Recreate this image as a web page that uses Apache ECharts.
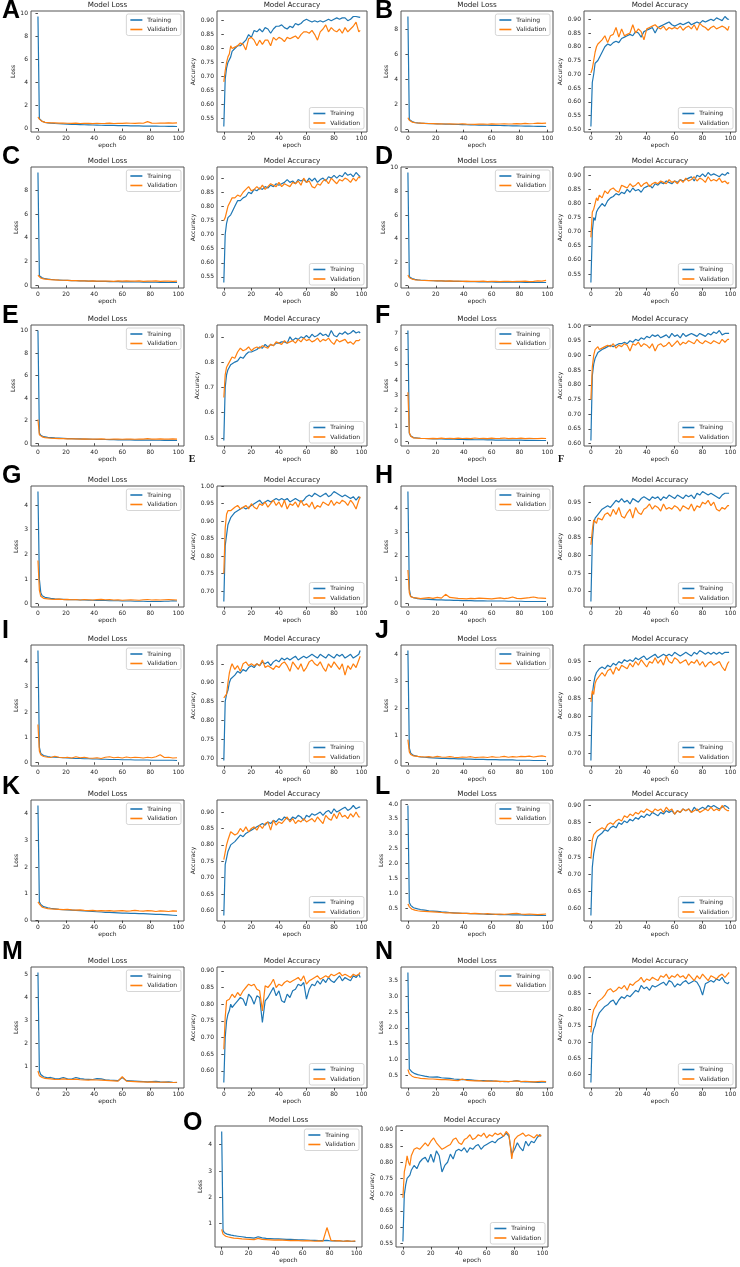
<!DOCTYPE html>
<html>
<head>
<meta charset="utf-8">
<script src="https://cdn.jsdelivr.net/npm/echarts@6/dist/echarts.min.js"></script>
<style>
  html, body { margin: 0; padding: 0; background: #fff; }
  #main { width: 740px; height: 1267px; }
</style>
</head>
<body>
<div id="main"></div>
<script>
var EP_L = [0,1,2,3,4,5,7,9,12,15,18,21,24,27,30,33,36,39,42,45,48,51,54,57,60,63,66,69,72,75,78,81,84,87,90,93,96,99];
var EP_A = [0,1,2,3,4,5,6,8,10,12,14,16,18,20,22,24,26,28,30,32,34,36,38,40,42,44,46,48,50,52,54,56,58,60,62,64,66,68,70,72,74,76,78,80,82,84,86,88,90,92,94,96,98,99];

// ---- A ----
var lossTrainA = [9.7,.85,.72,.64,.58,.54,.5,.47,.44,.42,
  .4,.39,.37,.36,.35,.33,.32,.31,.3,.29,
  .28,.28,.27,.26,.26,.25,.24,.24,.23,.22,
  .22,.21,.21,.2,.2,.19,.19,.18];
var lossValA = [1.0,.82,.7,.62,.56,.54,.52,.5,.49,.47,
  .48,.46,.45,.47,.44,.46,.45,.43,.46,.44,
  .45,.47,.44,.46,.45,.48,.46,.45,.47,.46,
  .6,.47,.46,.48,.47,.49,.47,.5];
var accTrainA = [.52,.69,.73,.75,.75,.77,.79,
  .80,.81,.81,.82,.83,.85,.84,.865,.86,.87,
  .86,.875,.87,.855,.87,.88,.88,.885,.875,.87,
  .88,.875,.89,.885,.89,.90,.905,.90,.895,.90,
  .895,.90,.895,.90,.905,.90,.905,.91,.905,.91,
  .91,.90,.905,.915,.915,.913,.912];
var accValA = [.68,.72,.75,.77,.78,.81,.80,
  .805,.81,.82,.815,.795,.835,.84,.83,.81,.83,
  .815,.83,.83,.81,.84,.83,.84,.835,.825,.84,
  .835,.84,.845,.835,.85,.86,.86,.855,.865,.85,
  .83,.86,.87,.885,.86,.875,.865,.86,.87,.855,
  .875,.86,.87,.88,.895,.86,.865];

// ---- B ----
var lossTrainB = [9.0,.8,.7,.65,.6,.57,.54,.52,.5,.48,
  .47,.46,.45,.44,.43,.42,.41,.4,.39,.38,
  .37,.36,.36,.35,.34,.33,.33,.32,.31,.3,
  .3,.29,.28,.28,.27,.26,.26,.25];
var lossValB = [.95,.75,.65,.6,.57,.55,.53,.52,.5,.49,
  .48,.46,.47,.45,.46,.44,.45,.46,.44,.43,
  .42,.44,.45,.43,.46,.44,.45,.47,.45,.46,
  .48,.46,.5,.47,.49,.52,.5,.52];
var accTrainB = [.51,.67,.70,.74,.745,.75,.76,
  .78,.80,.81,.805,.815,.82,.815,.83,.835,.84,
  .845,.84,.855,.85,.835,.855,.86,.865,.87,.85,
  .87,.875,.88,.885,.89,.88,.875,.88,.885,.88,
  .885,.89,.88,.885,.89,.885,.895,.89,.895,.90,
  .895,.905,.90,.895,.91,.90,.90];
var accValB = [.705,.72,.75,.78,.80,.81,.815,
  .825,.84,.815,.84,.845,.87,.835,.865,.84,.845,
  .85,.88,.85,.865,.855,.825,.865,.87,.875,.88,
  .87,.865,.875,.86,.87,.865,.87,.865,.875,.86,
  .87,.875,.865,.88,.86,.885,.875,.87,.86,.87,
  .875,.865,.87,.875,.87,.86,.875];

// ---- C ----
var lossTrainC = [9.5,.8,.7,.64,.6,.56,.53,.5,.47,.45,
  .43,.42,.4,.39,.38,.37,.36,.35,.34,.33,
  .33,.32,.31,.31,.3,.3,.29,.28,.28,.27,
  .27,.26,.26,.25,.25,.24,.24,.24];
var lossValC = [.85,.7,.62,.57,.54,.52,.5,.48,.46,.44,
  .43,.42,.4,.39,.37,.38,.36,.37,.35,.36,
  .35,.36,.34,.37,.35,.38,.36,.35,.37,.34,
  .36,.35,.37,.34,.36,.35,.34,.36];
var accTrainC = [.53,.70,.74,.76,.76,.77,.78,
  .80,.82,.82,.83,.835,.85,.845,.86,.855,.865,
  .86,.87,.865,.875,.87,.88,.875,.88,.885,.895,
  .885,.89,.88,.895,.89,.895,.885,.9,.89,.9,
  .885,.895,.9,.89,.905,.9,.91,.9,.91,.905,
  .92,.91,.915,.905,.92,.91,.905];
var accValC = [.75,.76,.78,.80,.80,.82,.83,
  .83,.84,.835,.85,.86,.87,.855,.86,.87,.86,
  .875,.86,.87,.88,.875,.87,.885,.87,.88,.875,
  .87,.885,.88,.89,.875,.9,.885,.89,.87,.865,
  .88,.875,.89,.895,.88,.9,.89,.88,.895,.89,
  .9,.895,.885,.9,.89,.905,.9];

// ---- D ----
var lossTrainD = [9.6,.75,.66,.6,.56,.53,.5,.48,.46,.44,
  .42,.41,.4,.39,.38,.37,.36,.36,.35,.34,
  .34,.33,.33,.32,.32,.31,.31,.3,.3,.3,
  .29,.29,.28,.28,.28,.27,.27,.27];
var lossValD = [.9,.68,.6,.56,.53,.5,.48,.46,.44,.43,
  .42,.41,.4,.39,.4,.38,.39,.37,.38,.36,
  .37,.36,.38,.35,.37,.36,.35,.37,.36,.35,
  .37,.36,.38,.35,.37,.4,.38,.45];
var accTrainD = [.52,.70,.75,.74,.77,.78,.785,
  .80,.79,.81,.82,.825,.835,.83,.84,.835,.85,
  .84,.855,.845,.85,.84,.855,.86,.865,.855,.87,
  .865,.875,.87,.88,.875,.87,.88,.875,.885,.88,
  .885,.89,.895,.88,.9,.895,.905,.895,.91,.9,
  .905,.9,.895,.905,.9,.91,.905];
var accValD = [.68,.77,.78,.80,.82,.81,.83,
  .82,.845,.835,.85,.855,.845,.84,.865,.86,.855,
  .87,.86,.865,.875,.86,.87,.875,.86,.87,.875,
  .87,.88,.875,.87,.885,.875,.88,.87,.885,.875,
  .89,.88,.885,.895,.88,.89,.885,.875,.895,.88,
  .885,.88,.89,.875,.88,.87,.875];

// ---- E ----
var lossTrainE = [10.0,.9,.7,.62,.58,.55,.52,.5,.47,.45,
  .43,.41,.4,.39,.38,.37,.36,.35,.34,.33,
  .33,.32,.31,.3,.3,.29,.29,.28,.28,.28,
  .27,.27,.26,.26,.25,.25,.25,.24];
var lossValE = [2.1,.75,.62,.56,.52,.5,.47,.45,.43,.41,
  .4,.39,.39,.38,.37,.38,.36,.37,.36,.38,
  .36,.35,.37,.36,.35,.37,.36,.35,.37,.36,
  .4,.37,.36,.38,.37,.36,.38,.37];
var accTrainE = [.49,.70,.75,.77,.78,.79,.795,
  .80,.805,.82,.815,.83,.84,.84,.845,.85,.86,
  .855,.87,.86,.87,.865,.875,.875,.88,.88,.875,
  .9,.885,.895,.89,.9,.895,.905,.895,.91,.90,
  .905,.915,.905,.91,.9,.925,.905,.9,.915,.91,
  .92,.91,.915,.925,.915,.92,.915];
var accValE = [.66,.75,.78,.79,.80,.80,.82,
  .815,.84,.855,.845,.85,.86,.845,.855,.86,.855,
  .865,.86,.855,.87,.865,.88,.875,.87,.885,.875,
  .88,.885,.875,.89,.88,.895,.885,.89,.88,.885,
  .895,.88,.89,.885,.895,.88,.87,.89,.88,.885,
  .89,.875,.88,.87,.885,.885,.89];

// ---- F ----
var lossTrainF = [7.2,.55,.38,.3,.27,.25,.24,.22,.21,.2,
  .19,.18,.18,.17,.16,.16,.15,.15,.14,.14,
  .13,.13,.13,.12,.12,.11,.11,.11,.1,.1,
  .1,.1,.09,.09,.09,.08,.08,.08];
var lossValF = [3.2,.6,.35,.28,.25,.24,.23,.22,.21,.2,
  .22,.2,.23,.21,.22,.2,.23,.21,.22,.2,
  .24,.21,.22,.2,.23,.21,.22,.24,.2,.22,
  .21,.23,.2,.22,.21,.2,.22,.21];
var accTrainF = [.61,.83,.87,.89,.90,.91,.915,
  .92,.925,.93,.935,.93,.935,.94,.94,.945,.94,
  .95,.945,.955,.95,.96,.955,.965,.96,.97,.965,
  .97,.96,.965,.97,.96,.975,.965,.97,.96,.975,
  .965,.97,.975,.97,.965,.975,.97,.965,.975,.97,
  .98,.975,.985,.97,.975,.975,.975];
var accValF = [.75,.86,.90,.92,.925,.93,.92,
  .925,.93,.935,.93,.94,.925,.935,.93,.94,.935,
  .915,.94,.935,.945,.93,.94,.935,.925,.94,.915,
  .935,.94,.93,.935,.945,.93,.94,.95,.935,.945,
  .94,.95,.945,.94,.955,.945,.94,.95,.945,.94,
  .95,.945,.94,.955,.945,.955,.955];

// ---- G ----
var lossTrainG = [4.55,1.0,.45,.32,.28,.26,.24,.22,.2,.19,
  .18,.17,.16,.16,.15,.15,.14,.14,.13,.13,
  .13,.12,.12,.12,.11,.11,.11,.1,.1,.1,
  .09,.09,.09,.09,.1,.1,.12,.11];
var lossValG = [1.75,.55,.3,.25,.22,.21,.2,.19,.18,.19,
  .17,.18,.16,.17,.15,.17,.16,.15,.17,.18,
  .16,.17,.15,.16,.14,.15,.16,.15,.14,.16,
  .17,.15,.16,.15,.16,.17,.16,.15];
var accTrainG = [.67,.83,.86,.89,.90,.91,.915,
  .925,.93,.935,.94,.935,.94,.945,.95,.955,.96,
  .95,.955,.96,.955,.96,.965,.96,.965,.96,.965,
  .955,.96,.965,.96,.955,.96,.97,.975,.97,.98,
  .975,.97,.975,.98,.97,.975,.985,.98,.975,.97,
  .975,.97,.965,.97,.96,.97,.965];
var accValG = [.75,.88,.92,.93,.93,.93,.935,
  .94,.945,.935,.94,.945,.935,.95,.94,.935,.95,
  .945,.955,.94,.95,.96,.945,.955,.94,.96,.935,
  .95,.945,.955,.94,.96,.945,.95,.94,.955,.935,
  .945,.94,.955,.95,.945,.96,.945,.955,.95,.96,
  .955,.945,.96,.95,.935,.96,.97];

// ---- H ----
var lossTrainH = [4.7,.6,.3,.26,.24,.22,.2,.19,.18,.17,
  .16,.15,.15,.14,.14,.13,.13,.12,.12,.12,
  .11,.11,.11,.1,.1,.1,.1,.1,.09,.09,
  .09,.09,.08,.08,.08,.08,.08,.08];
var lossValH = [1.4,.45,.28,.25,.24,.23,.22,.2,.22,.24,
  .21,.25,.22,.38,.25,.23,.21,.2,.19,.21,
  .2,.22,.21,.2,.19,.21,.23,.2,.22,.27,
  .21,.2,.22,.24,.27,.23,.22,.21];
var accTrainH = [.67,.84,.89,.905,.91,.915,.92,
  .93,.935,.94,.935,.945,.955,.95,.96,.95,.955,
  .945,.96,.955,.95,.96,.965,.96,.955,.965,.96,
  .965,.955,.965,.96,.97,.965,.96,.97,.965,.96,
  .97,.965,.97,.96,.975,.97,.98,.975,.97,.975,
  .97,.965,.96,.97,.975,.975,.975];
var accValH = [.83,.87,.90,.895,.89,.905,.91,
  .90,.915,.92,.91,.93,.915,.935,.91,.905,.92,
  .93,.905,.935,.92,.915,.93,.935,.945,.93,.94,
  .935,.925,.945,.93,.935,.93,.94,.935,.925,.94,
  .935,.93,.945,.925,.94,.935,.95,.945,.955,.94,
  .95,.93,.925,.935,.93,.94,.94];

// ---- I ----
var lossTrainI = [4.45,.6,.35,.3,.27,.25,.23,.21,.2,.19,
  .18,.17,.16,.15,.15,.14,.14,.13,.13,.12,
  .12,.11,.11,.11,.1,.1,.1,.09,.09,.09,
  .09,.08,.08,.08,.08,.08,.08,.07];
var lossValI = [1.5,.45,.3,.25,.23,.22,.2,.19,.24,.2,
  .18,.2,.17,.22,.18,.2,.17,.16,.18,.15,
  .2,.22,.18,.2,.17,.21,.18,.2,.19,.17,
  .2,.18,.22,.3,.19,.2,.17,.18];
var accTrainI = [.695,.85,.87,.88,.90,.91,.915,
  .92,.93,.925,.935,.93,.94,.945,.94,.95,.945,
  .955,.95,.955,.945,.955,.96,.955,.965,.96,.965,
  .96,.965,.97,.96,.965,.97,.965,.97,.975,.97,
  .965,.975,.97,.965,.975,.97,.965,.975,.97,.975,
  .965,.97,.975,.965,.97,.975,.985];
var accValI = [.86,.855,.87,.90,.925,.94,.95,
  .935,.945,.93,.95,.955,.945,.95,.945,.95,.945,
  .96,.94,.945,.94,.935,.945,.94,.95,.955,.945,
  .93,.955,.945,.935,.95,.93,.94,.955,.96,.95,
  .945,.955,.94,.93,.95,.94,.955,.945,.935,.95,
  .92,.945,.935,.95,.94,.96,.97];

// ---- J ----
var lossTrainJ = [4.15,.55,.35,.3,.27,.25,.23,.21,.2,.19,
  .18,.17,.16,.16,.15,.15,.14,.14,.13,.13,
  .12,.12,.12,.11,.11,.11,.1,.1,.1,.1,
  .09,.09,.09,.09,.08,.08,.08,.08];
var lossValJ = [.85,.4,.3,.27,.25,.24,.23,.22,.21,.22,
  .2,.23,.21,.2,.22,.2,.19,.21,.2,.22,
  .19,.2,.21,.19,.22,.2,.21,.23,.2,.22,
  .21,.23,.22,.24,.21,.23,.25,.22];
var accTrainJ = [.68,.86,.89,.91,.92,.925,.93,
  .935,.93,.94,.935,.945,.94,.95,.945,.955,.95,
  .955,.95,.96,.955,.96,.965,.955,.96,.965,.97,
  .96,.965,.97,.965,.97,.965,.975,.97,.965,.97,
  .975,.97,.965,.975,.97,.98,.975,.97,.975,.97,
  .975,.97,.975,.97,.975,.975,.975];
var accValJ = [.84,.87,.86,.89,.90,.905,.91,
  .92,.91,.925,.93,.915,.935,.925,.94,.935,.93,
  .945,.935,.95,.94,.955,.945,.935,.95,.945,.96,
  .945,.955,.94,.965,.95,.945,.96,.955,.945,.95,
  .955,.94,.95,.945,.955,.94,.95,.935,.945,.95,
  .94,.945,.95,.935,.925,.945,.95];

// ---- K ----
var lossTrainK = [4.3,.7,.6,.55,.52,.5,.48,.46,.44,.42,
  .41,.4,.39,.38,.37,.36,.35,.34,.33,.32,
  .31,.31,.3,.29,.28,.28,.27,.27,.26,.26,
  .25,.24,.23,.23,.22,.21,.2,.19];
var lossValK = [.7,.62,.55,.5,.48,.47,.45,.44,.43,.42,
  .41,.42,.4,.39,.4,.38,.37,.38,.36,.37,
  .36,.37,.35,.36,.37,.35,.36,.38,.36,.35,
  .37,.36,.34,.36,.35,.34,.36,.35];
var accTrainK = [.585,.74,.76,.78,.79,.80,.795,
  .81,.82,.83,.825,.835,.84,.845,.85,.855,.86,
  .865,.86,.87,.865,.875,.87,.88,.875,.885,.88,
  .875,.885,.88,.89,.885,.875,.89,.885,.895,.89,
  .895,.9,.89,.9,.905,.895,.91,.9,.905,.91,
  .915,.905,.91,.92,.91,.915,.915];
var accValK = [.755,.76,.80,.815,.82,.84,.835,
  .83,.835,.85,.84,.855,.84,.85,.855,.845,.86,
  .85,.865,.87,.845,.875,.86,.87,.865,.875,.885,
  .87,.88,.865,.875,.87,.88,.87,.875,.88,.87,
  .885,.875,.865,.89,.88,.875,.895,.88,.9,.885,
  .89,.88,.895,.885,.9,.885,.885];

// ---- L ----
var lossTrainL = [3.95,.7,.6,.55,.52,.5,.48,.46,.44,.42,
  .41,.4,.38,.37,.36,.35,.34,.33,.33,.32,
  .32,.31,.31,.3,.3,.3,.29,.29,.29,.28,
  .28,.28,.27,.27,.27,.26,.26,.26];
var lossValL = [.65,.55,.5,.47,.45,.44,.42,.41,.4,.39,
  .38,.37,.36,.35,.35,.34,.34,.33,.33,.32,
  .33,.32,.31,.32,.31,.3,.31,.3,.31,.32,
  .33,.31,.3,.31,.3,.29,.3,.31];
var accTrainL = [.58,.72,.76,.78,.80,.81,.805,
  .82,.83,.825,.835,.84,.835,.85,.845,.855,.85,
  .86,.855,.865,.86,.87,.865,.875,.87,.88,.875,
  .87,.88,.875,.885,.88,.885,.875,.885,.88,.89,
  .885,.89,.88,.895,.885,.89,.895,.89,.9,.895,
  .9,.895,.89,.895,.9,.895,.89];
var accValL = [.745,.80,.815,.81,.825,.82,.83,
  .835,.83,.845,.85,.845,.855,.86,.855,.87,.865,
  .875,.87,.88,.875,.885,.88,.89,.885,.88,.89,
  .885,.89,.88,.895,.885,.89,.875,.885,.88,.89,
  .885,.89,.88,.885,.89,.88,.885,.89,.885,.895,
  .885,.89,.885,.9,.89,.885,.885];

// ---- M ----
var lossTrainM = [5.1,.8,.65,.58,.55,.52,.5,.52,.47,.46,
  .52,.46,.45,.52,.47,.45,.44,.43,.47,.46,
  .42,.4,.39,.38,.52,.38,.37,.36,.35,.34,
  .33,.34,.35,.33,.32,.33,.31,.3];
var lossValM = [.8,.6,.55,.52,.5,.48,.47,.46,.44,.43,
  .46,.44,.43,.45,.42,.41,.4,.42,.41,.4,
  .39,.38,.37,.36,.55,.36,.35,.34,.33,.33,
  .32,.33,.32,.31,.32,.31,.3,.31];
var accTrainM = [.565,.70,.75,.77,.78,.80,.79,
  .80,.81,.82,.815,.795,.83,.82,.80,.825,.82,
  .745,.81,.82,.835,.85,.825,.84,.81,.805,.83,
  .82,.84,.845,.86,.855,.865,.815,.845,.86,.855,
  .87,.86,.875,.865,.88,.87,.865,.875,.885,.87,
  .88,.875,.87,.885,.88,.89,.88];
var accValM = [.665,.76,.81,.815,.815,.82,.83,
  .82,.835,.825,.84,.85,.86,.855,.86,.845,.84,
  .78,.855,.85,.86,.875,.85,.86,.855,.865,.87,
  .865,.87,.875,.88,.87,.885,.86,.87,.875,.88,
  .885,.875,.88,.885,.88,.89,.885,.89,.895,.885,
  .89,.885,.88,.89,.885,.89,.895];

// ---- N ----
var lossTrainN = [3.75,.7,.65,.6,.57,.55,.52,.5,.47,.45,
  .44,.45,.42,.41,.4,.38,.37,.36,.36,.35,
  .34,.33,.33,.32,.32,.31,.31,.3,.3,.31,
  .33,.3,.29,.29,.28,.27,.28,.28];
var lossValN = [.68,.55,.5,.47,.45,.43,.42,.4,.39,.38,
  .38,.37,.36,.36,.35,.34,.33,.38,.34,.33,
  .32,.33,.31,.32,.31,.32,.3,.31,.3,.31,
  .32,.3,.31,.3,.29,.3,.31,.3];
var accTrainN = [.575,.72,.74,.75,.77,.78,.79,
  .80,.81,.815,.825,.83,.815,.83,.84,.835,.845,
  .84,.85,.86,.855,.875,.865,.87,.86,.875,.87,
  .875,.88,.885,.875,.89,.885,.87,.88,.875,.885,
  .89,.88,.885,.89,.885,.87,.845,.88,.885,.89,
  .885,.895,.89,.9,.885,.88,.885];
var accValN = [.73,.78,.80,.805,.815,.825,.82,
  .835,.845,.86,.865,.855,.86,.87,.865,.875,.86,
  .88,.875,.885,.89,.9,.885,.895,.89,.9,.895,
  .89,.905,.9,.91,.895,.905,.9,.91,.9,.905,
  .895,.91,.9,.89,.905,.895,.91,.9,.89,.905,
  .9,.895,.905,.91,.9,.91,.915];

// ---- O ----
var lossTrainO = [4.5,.75,.65,.62,.6,.58,.56,.54,.52,.5,
  .48,.47,.45,.5,.46,.44,.43,.42,.42,.41,
  .4,.4,.39,.38,.38,.37,.36,.36,.35,.35,
  .36,.34,.35,.34,.33,.34,.33,.32];
var lossValO = [.78,.6,.55,.52,.5,.49,.47,.45,.44,.42,
  .41,.4,.39,.44,.4,.39,.38,.37,.38,.37,
  .36,.35,.36,.35,.34,.35,.34,.33,.34,.33,
  .85,.36,.34,.35,.33,.34,.33,.34];
var accTrainO = [.555,.70,.73,.75,.745,.76,.775,
  .79,.78,.80,.81,.815,.80,.825,.80,.835,.82,
  .77,.79,.80,.825,.81,.835,.84,.835,.845,.83,
  .845,.84,.85,.855,.84,.85,.855,.86,.865,.86,
  .87,.875,.88,.89,.88,.825,.84,.86,.845,.835,
  .865,.85,.865,.86,.875,.885,.88];
var accValO = [.69,.77,.79,.82,.80,.79,.82,
  .84,.845,.84,.85,.86,.85,.865,.875,.86,.85,
  .84,.845,.85,.855,.87,.875,.86,.855,.87,.875,
  .885,.87,.875,.885,.88,.89,.875,.885,.88,.89,
  .885,.89,.88,.895,.885,.81,.87,.88,.885,.89,
  .88,.885,.88,.875,.885,.88,.885];

// tick labels
var epochTicks = [0,20,40,60,80,100];
var lossTicks10 = [0,2,4,6,8,10];
var lossTicks8 = [0,2,4,6,8];
var lossTicks7 = [0,1,2,3,4,5,6,7];
var lossTicks4 = [0,1,2,3,4];
var lossTicksL = [0.5,1.0,1.5,2.0,2.5,3.0,3.5,4.0];
var lossTicksM = [1,2,3,4,5];
var lossTicksN = [0.5,1.0,1.5,2.0,2.5,3.0,3.5];
var lossTicksO = [1,2,3,4];
var accTicks55 = [0.55,0.60,0.65,0.70,0.75,0.80,0.85,0.90];
var accTicks50 = [0.50,0.55,0.60,0.65,0.70,0.75,0.80,0.85,0.90];
var accTicksE = [0.5,0.6,0.7,0.8,0.9];
var accTicks60x = [0.60,0.65,0.70,0.75,0.80,0.85,0.90,0.95,1.00];
var accTicks70x = [0.70,0.75,0.80,0.85,0.90,0.95,1.00];
var accTicks70 = [0.70,0.75,0.80,0.85,0.90,0.95];
var accTicks60 = [0.60,0.65,0.70,0.75,0.80,0.85,0.90];

var panels = [
  {key:'A', lt:lossTrainA, lv:lossValA, at:accTrainA, av:accValA, lk:lossTicks10, ak:accTicks55, ld:0, ad:2},
  {key:'B', lt:lossTrainB, lv:lossValB, at:accTrainB, av:accValB, lk:lossTicks8, ak:accTicks50, ld:0, ad:2},
  {key:'C', lt:lossTrainC, lv:lossValC, at:accTrainC, av:accValC, lk:lossTicks8, ak:accTicks55, ld:0, ad:2},
  {key:'D', lt:lossTrainD, lv:lossValD, at:accTrainD, av:accValD, lk:lossTicks10, ak:accTicks55, ld:0, ad:2},
  {key:'E', lt:lossTrainE, lv:lossValE, at:accTrainE, av:accValE, lk:lossTicks10, ak:accTicksE, ld:0, ad:1},
  {key:'F', lt:lossTrainF, lv:lossValF, at:accTrainF, av:accValF, lk:lossTicks7, ak:accTicks60x, ld:0, ad:2},
  {key:'G', lt:lossTrainG, lv:lossValG, at:accTrainG, av:accValG, lk:lossTicks4, ak:accTicks70x, ld:0, ad:2},
  {key:'H', lt:lossTrainH, lv:lossValH, at:accTrainH, av:accValH, lk:lossTicks4, ak:accTicks70, ld:0, ad:2},
  {key:'I', lt:lossTrainI, lv:lossValI, at:accTrainI, av:accValI, lk:lossTicks4, ak:accTicks70, ld:0, ad:2},
  {key:'J', lt:lossTrainJ, lv:lossValJ, at:accTrainJ, av:accValJ, lk:lossTicks4, ak:accTicks70, ld:0, ad:2},
  {key:'K', lt:lossTrainK, lv:lossValK, at:accTrainK, av:accValK, lk:lossTicks4, ak:accTicks60, ld:0, ad:2},
  {key:'L', lt:lossTrainL, lv:lossValL, at:accTrainL, av:accValL, lk:lossTicksL, ak:accTicks60, ld:1, ad:2},
  {key:'M', lt:lossTrainM, lv:lossValM, at:accTrainM, av:accValM, lk:lossTicksM, ak:accTicks60, ld:0, ad:2},
  {key:'N', lt:lossTrainN, lv:lossValN, at:accTrainN, av:accValN, lk:lossTicksN, ak:accTicks60, ld:1, ad:2},
  {key:'O', lt:lossTrainO, lv:lossValO, at:accTrainO, av:accValO, lk:lossTicksO, ak:accTicks55, ld:0, ad:2}
];

// layout (px)
var W = 740, H = 1267, PLOT_H = 121;
var ROW_TOP = [11,167,325,486,645,800,967,1126];
var LETTER_Y = [11,157,316,476,631,787,952,1123];
var COLS = [
  {lx:2,   loss:[31,184],  acc:[217,367]},
  {lx:375, loss:[401,553], acc:[584,736]}
];
var COL_O = {lx:183, loss:[215,362], acc:[396,548]};

var BLUE = '#1f77b4', ORANGE = '#ff7f0e', INK = '#222222';
var FONT = 'DejaVu Sans';
var TICK_FS = 6;

function pad5(arrs){//matplotlib style 5% margin
  var lo = Infinity, hi = -Infinity;
  arrs.forEach(function(a){ a.forEach(function(v){ if(v<lo) lo=v; if(v>hi) hi=v; }); });
  var m = (hi-lo)*0.05;
  return [lo-m, hi+m];
}
function pairs(ep, vals){
  return ep.map(function(e,i){ return [e, vals[i]]; });
}

var option = {
  backgroundColor:'#fff', animation:false,
  grid:[], xAxis:[], yAxis:[], series:[], legend:[], graphic:[]
};

function addChart(xr, top, title, yName, ep, tr, va, ticks, digits, legendAtTop, nameGap){
  var gi = option.grid.length;
  var w = xr[1]-xr[0];
  option.grid.push({left:xr[0], top:top, width:w, height:PLOT_H, show:true,
    borderColor:'#555555', borderWidth:1, backgroundColor:'#fff'});
  var xe = pad5([ep]), ye = pad5([tr, va]);
  option.xAxis.push({
    type:'value', gridIndex:gi, min:xe[0], max:xe[1],
    axisLine:{show:false}, splitLine:{show:false},
    axisTick:{show:true, length:2.5, customValues:epochTicks, lineStyle:{color:INK, width:0.8}},
    axisLabel:{customValues:epochTicks, fontSize:TICK_FS, color:INK, margin:3, fontFamily:FONT},
    name:'epoch', nameLocation:'middle', nameGap:10.5,
    nameTextStyle:{fontSize:TICK_FS, color:INK, fontFamily:FONT}
  });
  option.yAxis.push({
    type:'value', gridIndex:gi, min:ye[0], max:ye[1],
    axisLine:{show:false}, splitLine:{show:false},
    axisTick:{show:true, length:2.5, customValues:ticks, lineStyle:{color:INK, width:0.8}},
    axisLabel:{customValues:ticks, fontSize:TICK_FS, color:INK, margin:3, fontFamily:FONT,
      formatter:function(v){ return Number(v).toFixed(digits); }},
    name:yName, nameLocation:'middle', nameGap:nameGap,
    nameTextStyle:{fontSize:TICK_FS, color:INK, fontFamily:FONT}
  });
  option.series.push({type:'line', name:'Training', xAxisIndex:gi, yAxisIndex:gi,
    data:pairs(ep, tr), showSymbol:false, symbol:'none',
    lineStyle:{width:1.2, color:BLUE}, itemStyle:{color:BLUE}});
  option.series.push({type:'line', name:'Validation', xAxisIndex:gi, yAxisIndex:gi,
    data:pairs(ep, va), showSymbol:false, symbol:'none',
    lineStyle:{width:1.2, color:ORANGE}, itemStyle:{color:ORANGE}});
  var lg = {
    data:['Training','Validation'], orient:'vertical', selectedMode:false,
    right:W-xr[1]+3, icon:'rect', itemWidth:12, itemHeight:1.6, itemGap:3.5,
    padding:[3,4,3,4], borderColor:'#cccccc', borderWidth:0.8, borderRadius:2,
    backgroundColor:'rgba(255,255,255,0.85)',
    textStyle:{fontSize:TICK_FS, color:INK, fontFamily:FONT}
  };
  if(legendAtTop){ lg.top = top+3; } else { lg.bottom = H-(top+PLOT_H)+3; }
  option.legend.push(lg);
  option.graphic.push({type:'text', x:xr[0]+w/2, y:top-6, silent:true,
    style:{text:title, fill:INK, font:'7.2px "'+FONT+'"', textAlign:'center', textVerticalAlign:'middle'}});
}

panels.forEach(function(p, i){
  var row = Math.floor(i/2);
  var c = (i === 14) ? COL_O : COLS[i%2];
  var top = ROW_TOP[row];
  addChart(c.loss, top, 'Model Loss', 'Loss', EP_L, p.lt, p.lv, p.lk, p.ld, true, p.ld ? 15 : 12);
  addChart(c.acc, top, 'Model Accuracy', 'Accuracy', EP_A, p.at, p.av, p.ak, p.ad, false, p.ad===1 ? 15 : 19);
  option.graphic.push({type:'text', x:c.lx, y:LETTER_Y[row], silent:true,
    style:{text:p.key, fill:'#000', font:'bold 25px "Liberation Sans"', textAlign:'left', textVerticalAlign:'middle'}});
});

// stray serif labels under E and F accuracy plots
option.graphic.push({type:'text', x:192, y:459, silent:true,
  style:{text:'E', fill:'#111', font:'bold 10px "Liberation Serif"', textAlign:'center', textVerticalAlign:'middle'}});
option.graphic.push({type:'text', x:561, y:459, silent:true,
  style:{text:'F', fill:'#111', font:'bold 10px "Liberation Serif"', textAlign:'center', textVerticalAlign:'middle'}});

var chart = echarts.init(document.getElementById('main'), null, {renderer:'canvas'});
chart.setOption(option);
</script>
</body>
</html>
